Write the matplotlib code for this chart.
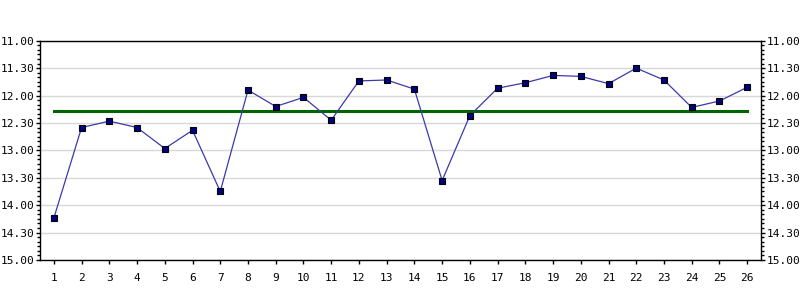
import matplotlib
matplotlib.use("Agg")
import numpy as np
import matplotlib.pyplot as plt
from matplotlib.ticker import MultipleLocator, FuncFormatter

# Times of day (hours.minutes) for each of the 26 entries
days = list(range(1, 27))
times = ["14.14", "12.35", "12.28", "12.35", "12.58", "12.38", "13.45",
         "11.54", "12.12", "12.02", "12.27", "11.44", "11.43", "11.53",
         "13.33", "12.22", "11.52", "11.46", "11.38", "11.39", "11.47",
         "11.30", "11.43", "12.13", "12.06", "11.51"]
avg_time = "12.17"


def to_hours(s):
    h, m = s.split(".")
    return int(h) + int(m) / 60.0


vals = np.array([to_hours(t) for t in times])
avg = to_hours(avg_time)


def fmt_time(v, pos):
    h = int(np.floor(v + 1e-6))
    m = int(round((v - h) * 60))
    return f"{h}.{m:02d}"


fig = plt.figure(figsize=(8, 3), dpi=100)
fig.patch.set_facecolor("white")
ax = fig.add_axes([0.05, 0.1333, 0.9013, 0.731])

ax.plot(days, vals, "-", color="#3a3aaa", linewidth=0.9, zorder=3)
ax.plot(days, vals, "s", markersize=4.5, markerfacecolor="#000080",
        markeredgecolor="black", markeredgewidth=0.8, zorder=4)
ax.plot([days[0], days[-1]], [avg, avg], "-", color="#006400",
        linewidth=2.2, zorder=2)

ax.set_xlim(0.5, 26.5)
ax.set_ylim(15, 11)
ax.set_xticks(days)
ax.yaxis.set_major_locator(MultipleLocator(0.5))
ax.yaxis.set_minor_locator(MultipleLocator(5 / 60))
ax.yaxis.set_major_formatter(FuncFormatter(fmt_time))

ax.grid(True, axis="y", which="major", color="#d8d8d8", linewidth=1.0)
ax.set_axisbelow(True)

for sp in ax.spines.values():
    sp.set_linewidth(1.0)
    sp.set_color("black")

mono = "DejaVu Sans Mono"
ax.tick_params(axis="y", which="both", left=True, right=True,
               labelleft=True, labelright=True, direction="out")
ax.tick_params(axis="y", which="major", length=3, width=1, pad=1,
               labelsize=8)
ax.tick_params(axis="y", which="minor", length=2, width=1)
ax.tick_params(axis="x", which="major", length=3, width=1, pad=6,
               labelsize=8)
for lbl in ax.get_yticklabels() + ax.get_xticklabels():
    lbl.set_fontfamily(mono)

fig.savefig("out.png", dpi=100, facecolor="white")
